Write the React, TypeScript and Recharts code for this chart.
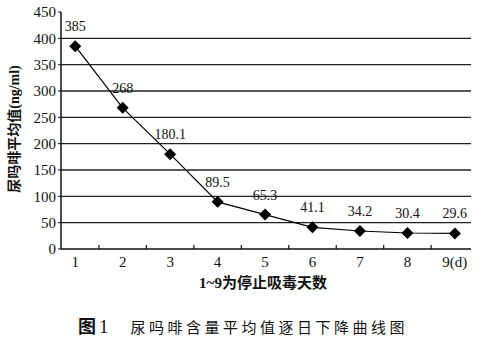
import { LineChart, Line, XAxis, YAxis, ReferenceLine, LabelList } from 'recharts';

// 停止吸毒天数 (d) 与尿吗啡平均值 (ng/ml)
const days = [1, 2, 3, 4, 5, 6, 7, 8, 9];
const dayLabels = ['1', '2', '3', '4', '5', '6', '7', '8', '9(d)'];
const morphine = [385, 268, 180.1, 89.5, 65.3, 41.1, 34.2, 30.4, 29.6];
const yTicks = [0, 50, 100, 150, 200, 250, 300, 350, 400, 450];
const gridValues = [50, 100, 150, 200, 250, 300, 350, 400];

const FONT = '"Liberation Serif", "Noto Sans CJK SC", serif';
const CJK_BOLD = '"Noto Sans CJK SC", sans-serif';

const data = days.map((d, i) => ({ day: d, value: morphine[i], label: String(morphine[i]) }));
// label ticks at each day plus small marks halfway between days
const xTicks = [...days, ...days.slice(0, -1).map((d) => d + 0.5)].sort((a, b) => a - b);

function DayTick({ x, y, payload }: any) {
  const v = payload.value as number;
  if (Number.isInteger(v)) {
    const idx = days.indexOf(v);
    return (
      <text x={x} y={y + 18} textAnchor="middle" fontSize={15} fontFamily={FONT} fill="#111">
        {dayLabels[idx]}
      </text>
    );
  }
  return <line x1={x} x2={x} y1={y} y2={y - 4} stroke="#111" strokeWidth={1.2} />;
}

function Diamond({ cx, cy }: any) {
  if (cx == null || cy == null) return null;
  const r = 6;
  return (
    <polygon
      points={`${cx},${cy - r} ${cx + r},${cy} ${cx},${cy + r} ${cx - r},${cy}`}
      fill="#000"
    />
  );
}

function ValueLabel({ x, y, value }: any) {
  return (
    <text x={x} y={y - 15} textAnchor="middle" fontSize={14} fontFamily={FONT} fill="#111">
      {value}
    </text>
  );
}

export default function App() {
  return (
    <div style={{ position: 'absolute', left: 0, top: 0, width: 489, height: 353, background: '#fff' }}>
      <LineChart width={489} height={280} data={data} margin={{ top: 12, right: 18, left: 0, bottom: 1 }}>
        {gridValues.map((g) => (
          <ReferenceLine key={g} y={g} stroke="#222" strokeWidth={1.3} />
        ))}
        <XAxis
          dataKey="day"
          type="number"
          domain={[0.7, 9.34]}
          ticks={xTicks}
          interval={0}
          height={30}
          tickLine={false}
          tickSize={0}
          tickMargin={0}
          axisLine={{ stroke: '#111', strokeWidth: 1.5 }}
          tick={<DayTick />}
        />
        <YAxis
          domain={[0, 450]}
          ticks={yTicks}
          interval={0}
          width={61}
          tickSize={3}
          tickMargin={2}
          tickLine={{ stroke: '#111' }}
          axisLine={{ stroke: '#111', strokeWidth: 1.5 }}
          tick={{ fontSize: 15, fontFamily: FONT, fill: '#111' }}
        />
        <Line
          dataKey="value"
          type="linear"
          stroke="#000"
          strokeWidth={1.2}
          dot={<Diamond />}
          activeDot={false}
          isAnimationActive={false}
        >
          <LabelList dataKey="label" content={<ValueLabel />} />
        </Line>
      </LineChart>
      <div
        style={{
          position: 'absolute',
          left: 14,
          top: 129,
          transform: 'translate(-50%, -50%) rotate(-90deg)',
          whiteSpace: 'nowrap',
          fontFamily: CJK_BOLD,
          fontWeight: 700,
          fontSize: 14,
          color: '#111',
          lineHeight: 1,
        }}
      >
        尿吗啡平均值<span style={{ fontFamily: FONT, fontSize: 14 }}>(ng/ml)</span>
      </div>
      <div
        style={{
          position: 'absolute',
          left: 263,
          top: 274,
          transform: 'translateX(-50%)',
          whiteSpace: 'nowrap',
          fontFamily: CJK_BOLD,
          fontWeight: 700,
          fontSize: 15,
          color: '#111',
          lineHeight: '15px',
        }}
      >
        <span style={{ fontFamily: FONT }}>1~9</span>为停止吸毒天数
      </div>
      <div
        style={{
          position: 'absolute',
          left: 78,
          top: 316,
          whiteSpace: 'nowrap',
          fontSize: 15,
          color: '#111',
          lineHeight: '18px',
          fontFamily: CJK_BOLD,
        }}
      >
        <span style={{ fontWeight: 700, fontSize: 18 }}>图</span>
        <span style={{ fontFamily: FONT, fontSize: 19, marginLeft: 3 }}>1</span>
        <span style={{ marginLeft: 22, letterSpacing: 3.5 }}>尿吗啡含量平均值逐日下降曲线图</span>
      </div>
    </div>
  );
}
